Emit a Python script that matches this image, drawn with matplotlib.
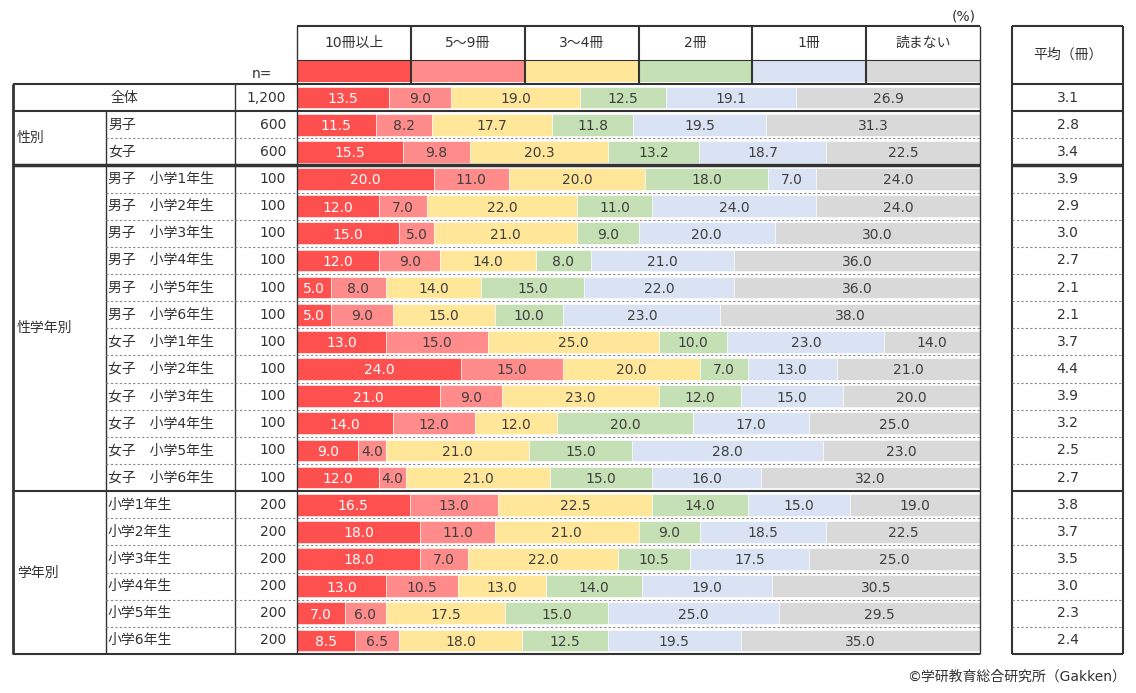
import matplotlib.pyplot as plt

plt.rcParams['font.family'] = ['DejaVu Sans', 'Noto Sans CJK JP']

# ---- data ----
categories = ['10冊以上', '5～9冊', '3～4冊', '2冊', '1冊', '読まない']
colors = ['#FF5050', '#FF8B8B', '#FFE699', '#C5E0B4', '#DAE3F3', '#D9D9D9']

row_labels = ['全体', '男子', '女子',
              '男子　小学1年生', '男子　小学2年生', '男子　小学3年生',
              '男子　小学4年生', '男子　小学5年生', '男子　小学6年生',
              '女子　小学1年生', '女子　小学2年生', '女子　小学3年生',
              '女子　小学4年生', '女子　小学5年生', '女子　小学6年生',
              '小学1年生', '小学2年生', '小学3年生', '小学4年生', '小学5年生', '小学6年生']
n_values = ['1,200', '600', '600'] + ['100'] * 12 + ['200'] * 6
avg_books = [3.1, 2.8, 3.4, 3.9, 2.9, 3.0, 2.7, 2.1, 2.1, 3.7, 4.4, 3.9, 3.2, 2.5, 2.7,
             3.8, 3.7, 3.5, 3.0, 2.3, 2.4]

ten_plus = [13.5, 11.5, 15.5, 20, 12, 15, 12, 5, 5, 13, 24, 21, 14, 9, 12, 16.5, 18, 18, 13, 7, 8.5]
five_nine = [9.0, 8.2, 9.8, 11, 7, 5, 9, 8, 9, 15, 15, 9, 12, 4, 4, 13, 11, 7, 10.5, 6, 6.5]
three_four = [19.0, 17.7, 20.3, 20, 22, 21, 14, 14, 15, 25, 20, 23, 12, 21, 21, 22.5, 21, 22, 13, 17.5, 18]
two_books = [12.5, 11.8, 13.2, 18, 11, 9, 8, 15, 10, 10, 7, 12, 20, 15, 15, 14, 9, 10.5, 14, 15, 12.5]
one_book = [19.1, 19.5, 18.7, 7, 24, 20, 21, 22, 23, 23, 13, 15, 17, 28, 16, 15, 18.5, 17.5, 19, 25, 19.5]
no_read = [26.9, 31.3, 22.5, 24, 24, 30, 36, 36, 38, 14, 21, 20, 25, 23, 32, 19, 22.5, 25, 30.5, 29.5, 35]
series = [ten_plus, five_nine, three_four, two_books, one_book, no_read]

# group name, first row, last row (exclusive)
groups = [('全体', 0, 1), ('性別', 1, 3), ('性学年別', 3, 15), ('学年別', 15, 21)]

# ---- layout (pixels) ----
W, H = 1136, 693
X0, XG, XL, XC0, XC1, XR0, XR1 = 13, 106, 235, 297, 980, 1012, 1123
YH0, YH1, YB1, Y0, Y1 = 26, 60, 82, 84, 654
nrows = len(row_labels)
rowh = (Y1 - Y0) / nrows
TXT = '#333333'

fig = plt.figure(figsize=(W / 100, H / 100), dpi=100)

# stacked bars
ax = fig.add_axes([XC0 / W, 1 - Y1 / H, (XC1 - XC0) / W, (Y1 - Y0) / H])
ax.set_xlim(0, 100)
ax.set_ylim(nrows, 0)
ax.axis('off')
left = [0.0] * nrows
for k, vals in enumerate(series):
    ys = [i + 0.5 for i in range(nrows)]
    ax.barh(ys, vals, left=left, height=0.8, color=colors[k], edgecolor='white', linewidth=0.4)
    for i, v in enumerate(vals):
        ax.text(left[i] + v / 2, i + 0.55, f'{v:.1f}', ha='center', va='center', fontsize=10,
                color='white' if k == 0 else '#404040')
    left = [a + b for a, b in zip(left, vals)]

# colour key band in header
hax = fig.add_axes([XC0 / W, 1 - YB1 / H, (XC1 - XC0) / W, (YB1 - YH1) / H])
hax.set_xlim(0, len(categories))
hax.set_ylim(0, 1)
hax.axis('off')
hax.bar(range(len(categories)), [1] * len(categories), width=1, align='edge', color=colors)

# table lines and texts
bg = fig.add_axes([0, 0, 1, 1], zorder=5)
bg.set_xlim(0, W)
bg.set_ylim(H, 0)
bg.axis('off')
bg.patch.set_alpha(0)

def row_y(i):
    return Y0 + i * rowh

dark = '#333333'
# header
colw = (XC1 - XC0) / len(categories)
bg.hlines(YH0, XC0, XC1, color=dark, lw=1.5)
bg.hlines(YH1, XC0, XC1, color=dark, lw=0.8)
for k, cat in enumerate(categories):
    bg.text(XC0 + (k + 0.5) * colw, (YH0 + YH1) / 2, cat, ha='center', va='center', fontsize=10, color=TXT)
    if k > 0:
        bg.vlines(XC0 + k * colw, YH0, Y0, color=dark, lw=1.5)
bg.text(964, 16, '(%)', ha='center', va='center', fontsize=10, color=TXT)
bg.text(262, 74, 'n=', ha='center', va='center', fontsize=10, color=TXT)

# outer borders
bg.hlines(Y0, X0, XC1, color=dark, lw=1.5)
bg.hlines(Y1, X0, XC1, color=dark, lw=1.5)
bg.vlines(X0, Y0, Y1, color=dark, lw=2)
bg.vlines(XL, Y0, Y1, color=dark, lw=1)
bg.vlines(XG, row_y(1), Y1, color=dark, lw=1)
bg.vlines(XC0, YH0, Y1, color=dark, lw=1)
bg.vlines(XC1, YH0, Y1, color=dark, lw=1)

# right table
bg.hlines([YH0, Y0, Y1], XR0, XR1, color=dark, lw=1.5)
bg.vlines([XR0, XR1], YH0, Y1, color=dark, lw=1.5)
bg.text((XR0 + XR1) / 2, (YH0 + Y0) / 2, '平均（冊）', ha='center', va='center', fontsize=10, color=TXT)

for name, a, b in groups:
    if a > 0:
        lw = 2.5 if a == 3 else 1.5
        bg.hlines(row_y(a), X0, XC1, color=dark, lw=lw)
        bg.hlines(row_y(a), XR0, XR1, color=dark, lw=lw)
    for i in range(a + 1, b):
        bg.hlines(row_y(i), XG, XC1, color='#888888', lw=0.8, linestyles=(0, (2, 2)))
        bg.hlines(row_y(i), XR0, XR1, color='#888888', lw=0.8, linestyles=(0, (2, 2)))
    if name == '全体':
        bg.text((X0 + XL) / 2, row_y(a) + rowh / 2, name, ha='center', va='center', fontsize=10, color=TXT)
    else:
        bg.text(X0 + 4, (row_y(a) + row_y(b)) / 2, name, ha='left', va='center', fontsize=10, color=TXT)

for i, lab in enumerate(row_labels):
    yc = row_y(i) + rowh / 2
    if i > 0:
        bg.text(XG + 2, yc, lab, ha='left', va='center', fontsize=10, color=TXT)
    bg.text(XC0 - 11, yc, n_values[i], ha='right', va='center', fontsize=10, color=TXT)
    bg.text((XR0 + XR1) / 2, yc, f'{avg_books[i]:.1f}', ha='center', va='center', fontsize=10, color=TXT)

bg.text(1126, 677, '©学研教育総合研究所（Gakken）', ha='right', va='center', fontsize=10, color=TXT)

fig.savefig('out.png', dpi=100)
